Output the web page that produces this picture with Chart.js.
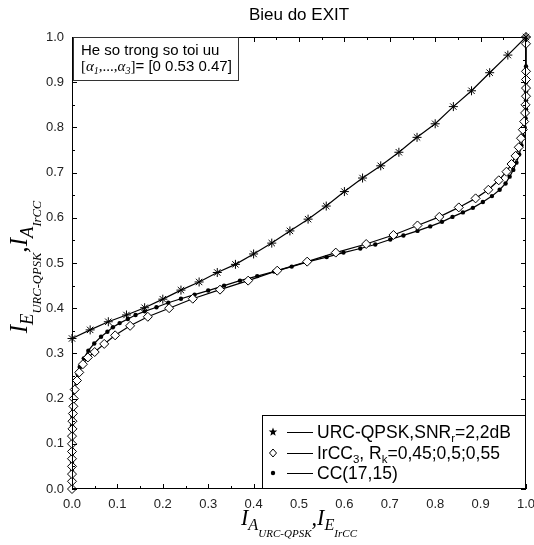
<!DOCTYPE html>
<html>
<head>
<meta charset="utf-8">
<script src="https://cdn.jsdelivr.net/npm/chart.js@4.4.1/dist/chart.umd.min.js"></script>
<style>
  html, body { margin: 0; padding: 0; background: #fff; }
  canvas { display: block; }
</style>
</head>
<body>
<canvas id="exitChart" width="534" height="545"></canvas>
<script>
// URC-QPSK, SNR_r = 2,2 dB  (stars)
const urcX = [0, 0.04, 0.08, 0.12, 0.16, 0.20, 0.24, 0.28, 0.32, 0.36, 0.40, 0.44, 0.48,
              0.52, 0.56, 0.60, 0.64, 0.68, 0.72, 0.76, 0.80, 0.84, 0.88, 0.92, 0.96, 1.00];
const urcY = [0.333, 0.352, 0.370, 0.385, 0.401, 0.420, 0.440, 0.458, 0.479, 0.497, 0.520, 0.544, 0.571,
              0.597, 0.626, 0.658, 0.688, 0.715, 0.745, 0.778, 0.808, 0.846, 0.881, 0.921, 0.960, 1.000];

// IrCC_3, R_k = 0,45;0,5;0,55  (diamonds)
const irccX = [0, 0, 0, 0, 0, 0, 0, 0, 0.001, 0.001, 0.002, 0.003, 0.004, 0.006, 0.011, 0.016, 0.024,
               0.035, 0.050, 0.071, 0.095, 0.128, 0.167, 0.214, 0.266, 0.326, 0.388, 0.452, 0.518, 0.581,
               0.648, 0.708, 0.761, 0.809, 0.852, 0.889, 0.917, 0.940, 0.957, 0.968, 0.977, 0.984, 0.989,
               0.993, 0.996, 0.998, 0.999, 1, 1, 1, 1, 1, 1];
const irccY = [0, 0.017, 0.033, 0.050, 0.067, 0.083, 0.100, 0.117, 0.133, 0.150, 0.167, 0.183, 0.200,
               0.220, 0.240, 0.258, 0.276, 0.291, 0.303, 0.321, 0.340, 0.361, 0.381, 0.400, 0.421, 0.441,
               0.461, 0.483, 0.503, 0.523, 0.542, 0.562, 0.583, 0.602, 0.623, 0.643, 0.662, 0.683, 0.702,
               0.719, 0.737, 0.756, 0.776, 0.795, 0.813, 0.832, 0.850, 0.869, 0.887, 0.906, 0.924, 0.985, 1.0];

// CC(17,15)  (dots)
const ccX = [0, 0, 0, 0, 0, 0, 0, 0, 0.001, 0.002, 0.003, 0.005, 0.008, 0.012, 0.017, 0.026, 0.036,
             0.049, 0.064, 0.078, 0.090, 0.105, 0.123, 0.140, 0.160, 0.186, 0.212, 0.240, 0.270, 0.300,
             0.335, 0.370, 0.408, 0.445, 0.484, 0.521, 0.561, 0.598, 0.635, 0.668, 0.701, 0.730, 0.761,
             0.789, 0.815, 0.838, 0.861, 0.883, 0.905, 0.925, 0.942, 0.955, 0.964, 0.972, 0.979, 0.985,
             0.990, 0.994, 0.997, 0.999, 1, 1, 1, 1, 1, 1, 1];
const ccY = [0, 0.02, 0.04, 0.06, 0.08, 0.10, 0.12, 0.14, 0.16, 0.18, 0.20, 0.22, 0.24, 0.255, 0.270,
             0.289, 0.306, 0.322, 0.337, 0.348, 0.358, 0.367, 0.376, 0.385, 0.393, 0.402, 0.412, 0.421,
             0.430, 0.439, 0.450, 0.461, 0.471, 0.481, 0.492, 0.503, 0.513, 0.523, 0.532, 0.541, 0.552,
             0.561, 0.571, 0.581, 0.591, 0.602, 0.612, 0.622, 0.635, 0.648, 0.662, 0.676, 0.691, 0.706,
             0.722, 0.740, 0.760, 0.780, 0.800, 0.820, 0.840, 0.860, 0.880, 0.900, 0.920, 0.935, 1.0];

const SANS = "'Liberation Sans', Arial, Helvetica, sans-serif";
const SERIF = "'Liberation Serif', 'Times New Roman', serif";

function toPoints(xs, ys) {
  return xs.map((x, i) => ({ x: x, y: ys[i] }));
}

// draw a run of text pieces [text, font, dy]
function richText(ctx, x, y, parts, align) {
  let w = 0;
  parts.forEach(p => { ctx.font = p[1]; w += ctx.measureText(p[0]).width; });
  let cx = align === 'center' ? x - w / 2 : x;
  ctx.textAlign = 'left';
  ctx.textBaseline = 'alphabetic';
  parts.forEach(p => {
    ctx.font = p[1];
    ctx.fillText(p[0], cx, y + (p[2] || 0));
    cx += ctx.measureText(p[0]).width;
  });
}

function axisLabel(a, b, c, d, k) {
  const big = 'italic ' + (21 * k) + 'px ' + SERIF;
  const mid = 'italic ' + (15.5 * k) + 'px ' + SERIF;
  const small = 'italic ' + (10.5 * k) + 'px ' + SERIF;
  return [['I', big, 0], [a, mid, 5 * k], [b, small, 11.5 * k], [',', big, 0],
          ['I', big, 0], [c, mid, 5 * k], [d, small, 11.5 * k]];
}

function starMark(ctx, x, y, r) {
  ctx.beginPath();
  for (let i = 0; i < 10; i++) {
    const ang = -Math.PI / 2 + i * Math.PI / 5;
    const rr = i % 2 === 0 ? r : r * 0.42;
    const px = x + rr * Math.cos(ang), py = y + rr * Math.sin(ang);
    if (i === 0) ctx.moveTo(px, py); else ctx.lineTo(px, py);
  }
  ctx.closePath();
  ctx.fill();
}

const decorPlugin = {
  id: 'decor',
  afterDraw(chart) {
    const ctx = chart.ctx;
    const xs = chart.scales.x, ys = chart.scales.y;
    const { left, right, top, bottom } = chart.chartArea;
    ctx.save();
    ctx.strokeStyle = '#000';
    ctx.lineWidth = 1;

    // inward ticks on all four sides
    ctx.beginPath();
    for (let i = 0; i <= 20; i++) {
      const v = i / 20;
      const len = i % 2 === 0 ? 5 : 3;
      const px = Math.round(xs.getPixelForValue(v)) + 0.5;
      const py = Math.round(ys.getPixelForValue(v)) + 0.5;
      ctx.moveTo(px, bottom); ctx.lineTo(px, bottom - len);
      ctx.moveTo(px, top); ctx.lineTo(px, top + len);
      ctx.moveTo(left, py); ctx.lineTo(left + len, py);
      ctx.moveTo(right, py); ctx.lineTo(right - len, py);
    }
    ctx.stroke();
    ctx.strokeRect(left + 0.5, top + 0.5, right - left - 1, bottom - top - 1);

    // title
    ctx.fillStyle = '#000';
    ctx.font = '17px ' + SANS;
    ctx.textAlign = 'center';
    ctx.textBaseline = 'alphabetic';
    ctx.fillText('Bieu do EXIT', (left + right) / 2, 20);

    // axis titles
    richText(ctx, (left + right) / 2, 525, axisLabel('A', 'URC-QPSK', 'E', 'IrCC', 1.05), 'center');
    ctx.save();
    ctx.translate(27, 267);
    ctx.rotate(-Math.PI / 2);
    richText(ctx, 0, 0, axisLabel('E', 'URC-QPSK', 'A', 'IrCC', 1.2), 'center');
    ctx.restore();

    // weights box, top left
    ctx.fillStyle = '#fff';
    ctx.fillRect(73.5, 37.5, 165, 43);
    ctx.strokeStyle = '#333';
    ctx.strokeRect(73.5, 37.5, 165, 43);
    ctx.fillStyle = '#000';
    richText(ctx, 81, 55, [['He so trong so toi uu', '15px ' + SANS, 0]]);
    const al = 'italic 15px ' + SERIF, sub = 'italic 10px ' + SERIF, sv = '15px ' + SERIF;
    richText(ctx, 81, 71, [['[', sv, 0], ['\u03b1', al, 0], ['1', sub, 3], [',...,', sv, 0],
      ['\u03b1', al, 0], ['3', sub, 3], [']', sv, 0], ['= [0 0.53 0.47]', '15px ' + SANS, 0]]);

    // legend box, bottom right
    const lx = 262.5, ly = 415.5;
    const big = '17.5px ' + SANS, tiny = '11.5px ' + SANS;
    ctx.fillStyle = '#fff';
    ctx.fillRect(lx, ly, right - 0.5 - lx, bottom - 0.5 - ly);
    ctx.strokeStyle = '#000';
    ctx.strokeRect(lx, ly, right - 0.5 - lx, bottom - 0.5 - ly);
    const rows = [
      { y: 432, mark: 'star', text: [['URC-QPSK,SNR', big, 0], ['r', tiny, 4], ['=2,2dB', big, 0]] },
      { y: 453, mark: 'diamond', text: [['IrCC', big, 0], ['3', tiny, 4], [', R', big, 0], ['k', tiny, 4], ['=0,45;0,5;0,55', big, 0]] },
      { y: 473, mark: 'dot', text: [['CC(17,15)', big, 0]] }
    ];
    rows.forEach(r => {
      ctx.fillStyle = '#000';
      ctx.strokeStyle = '#000';
      ctx.lineWidth = 1;
      if (r.mark === 'star') {
        starMark(ctx, 273, r.y, 4.5);
      } else if (r.mark === 'diamond') {
        ctx.beginPath();
        ctx.moveTo(273, r.y - 4); ctx.lineTo(276.5, r.y); ctx.lineTo(273, r.y + 4); ctx.lineTo(269.5, r.y);
        ctx.closePath();
        ctx.stroke();
      } else {
        ctx.beginPath();
        ctx.arc(273, r.y, 2.2, 0, Math.PI * 2);
        ctx.fill();
      }
      ctx.beginPath();
      ctx.moveTo(287, r.y + 0.5); ctx.lineTo(313, r.y + 0.5);
      ctx.stroke();
      richText(ctx, 317, r.y + 6, r.text);
    });
    ctx.restore();
  }
};

new Chart(document.getElementById('exitChart').getContext('2d'), {
  type: 'scatter',
  data: {
    datasets: [
      {
        label: 'URC-QPSK',
        data: toPoints(urcX, urcY),
        showLine: true,
        borderColor: '#000',
        borderWidth: 1.2,
        pointStyle: 'star',
        pointRadius: 4.5,
        pointBorderWidth: 1,
        pointBorderColor: '#000',
        pointBackgroundColor: '#000',
        clip: false
      },
      {
        label: 'IrCC',
        data: toPoints(irccX, irccY),
        showLine: true,
        borderColor: '#000',
        borderWidth: 1.2,
        pointStyle: 'rectRot',
        pointRadius: 4.5,
        pointBorderWidth: 1,
        pointBorderColor: '#000',
        pointBackgroundColor: '#fff',
        clip: false
      },
      {
        label: 'CC(17,15)',
        data: toPoints(ccX, ccY),
        showLine: true,
        borderColor: '#000',
        borderWidth: 1.2,
        pointStyle: 'circle',
        pointRadius: 2.2,
        pointBorderWidth: 0,
        pointBackgroundColor: '#000',
        clip: false
      }
    ]
  },
  options: {
    responsive: false,
    animation: false,
    devicePixelRatio: 1,
    layout: { padding: { top: 37, right: 8, left: 0, bottom: 0 } },
    plugins: { legend: { display: false }, title: { display: false }, tooltip: { enabled: false } },
    scales: {
      x: {
        type: 'linear', min: 0, max: 1,
        grid: { display: false, drawTicks: false },
        border: { display: false },
        ticks: { stepSize: 0.1, padding: 8, color: '#222', font: { family: SANS, size: 13 },
                 callback: v => v.toFixed(1), maxRotation: 0 },
        afterFit(scale) { scale.height = 56; scale.paddingLeft = 0; scale.paddingRight = 0; }
      },
      y: {
        type: 'linear', min: 0, max: 1,
        grid: { display: false, drawTicks: false },
        border: { display: false },
        ticks: { stepSize: 0.1, padding: 8, color: '#222', font: { family: SANS, size: 13 },
                 callback: v => v.toFixed(1) },
        afterFit(scale) { scale.width = 72; scale.paddingTop = 0; scale.paddingBottom = 0; }
      }
    }
  },
  plugins: [decorPlugin]
});
</script>
</body>
</html>
